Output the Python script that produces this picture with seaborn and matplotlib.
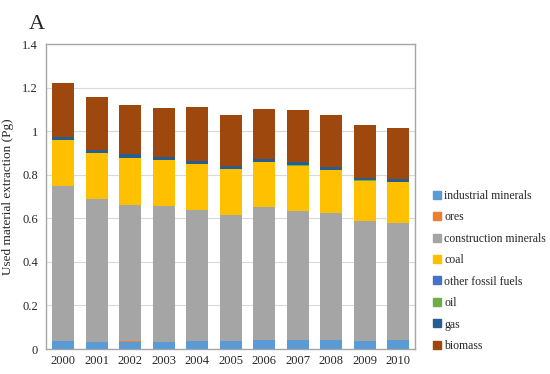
import matplotlib
matplotlib.use("Agg")
import matplotlib.pyplot as plt
import seaborn as sns
import pandas as pd
import numpy as np
from matplotlib.lines import Line2D

years = ["2000", "2001", "2002", "2003", "2004", "2005", "2006", "2007", "2008", "2009", "2010"]
industrial_minerals = [0.037, 0.031, 0.034, 0.031, 0.038, 0.038, 0.041, 0.041, 0.041, 0.038, 0.041]
ores = [0.001, 0.001, 0.001, 0.001, 0.001, 0.001, 0.001, 0.001, 0.001, 0.001, 0.001]
construction_minerals = [0.711, 0.656, 0.627, 0.624, 0.597, 0.576, 0.611, 0.593, 0.582, 0.547, 0.538]
coal = [0.210, 0.210, 0.213, 0.211, 0.213, 0.210, 0.204, 0.206, 0.197, 0.186, 0.185]
other_fossil_fuels = [0.001, 0.001, 0.001, 0.001, 0.001, 0.001, 0.001, 0.001, 0.001, 0.001, 0.001]
oil = [0.001, 0.001, 0.001, 0.001, 0.001, 0.001, 0.001, 0.001, 0.001, 0.001, 0.001]
gas = [0.013, 0.013, 0.016, 0.013, 0.012, 0.013, 0.012, 0.014, 0.012, 0.012, 0.012]
biomass = [0.246, 0.242, 0.227, 0.223, 0.250, 0.235, 0.229, 0.238, 0.240, 0.242, 0.234]

series_names = ["industrial minerals", "ores", "construction minerals", "coal",
                "other fossil fuels", "oil", "gas", "biomass"]
series_values = [industrial_minerals, ores, construction_minerals, coal,
                 other_fossil_fuels, oil, gas, biomass]
colors = ["#5B9BD5", "#ED7D31", "#A5A5A5", "#FFC000", "#4472C4", "#70AD47", "#255E91", "#9E480E"]

sns.set_style("white")
plt.rcParams['font.family'] = ['Liberation Serif', 'DejaVu Serif']

fig = plt.figure(figsize=(5.5, 3.74), dpi=100)
ax = fig.add_axes([0.0845, 0.0668, 0.670, 0.8155])

cum = np.cumsum(np.array(series_values), axis=0)
# draw cumulative totals from top layer down so each layer shows its own band
for i in range(len(series_names) - 1, -1, -1):
    df = pd.DataFrame({"year": years, "value": cum[i]})
    sns.barplot(data=df, x="year", y="value", color=colors[i], width=0.67,
                saturation=1, ax=ax, linewidth=0, zorder=3)

ax.set_ylim(0, 1.4)
ax.set_xlim(-0.5, len(years) - 0.5)
ax.set_yticks([0, 0.2, 0.4, 0.6, 0.8, 1.0, 1.2, 1.4])
ax.set_yticklabels(["0", "0.2", "0.4", "0.6", "0.8", "1", "1.2", "1.4"])
ax.yaxis.grid(True, color="#D9D9D9", linewidth=0.8, zorder=0)
ax.set_axisbelow(True)
ax.tick_params(axis="y", length=0, labelsize=9, pad=6)
ax.tick_params(axis="x", length=0, labelsize=9, pad=4)
ax.set_xlabel("")
ax.set_ylabel("Used material extraction (Pg)", fontsize=9.5, labelpad=6)
for s in ax.spines.values():
    s.set_visible(True)
    s.set_color("#A6A6A6")
    s.set_linewidth(1.0)

handles = [Line2D([0], [0], marker="s", linestyle="", markersize=5.5,
                  markerfacecolor=c, markeredgecolor=c) for c in colors]
fig.legend(handles, series_names, loc="upper left", bbox_to_anchor=(0.777, 0.505),
           frameon=False, fontsize=8.5, handletextpad=0.15, labelspacing=0.8,
           handlelength=0.9, borderaxespad=0)

fig.text(0.052, 0.96, "A", fontsize=16, va="top", ha="left")

fig.savefig("out.png", dpi=100)
